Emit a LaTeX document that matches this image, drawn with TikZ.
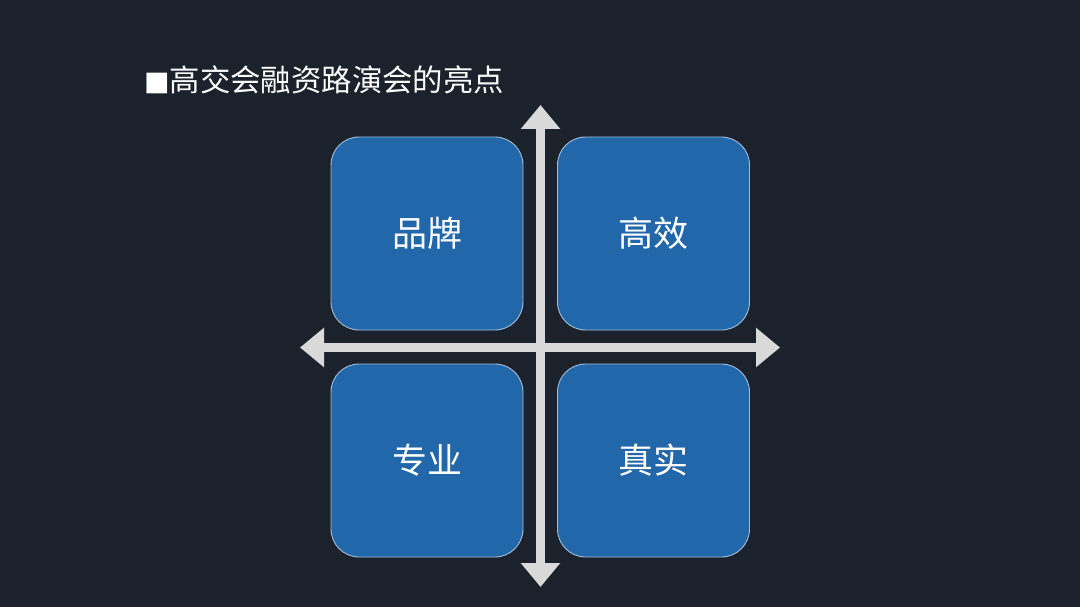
\documentclass[tikz,border=0pt]{standalone}
\usepackage{fontspec}
\setmainfont{Noto Sans CJK SC}
\newfontfamily\cjk{Noto Sans CJK SC}
\newfontfamily\symb{DejaVu Sans}
\usetikzlibrary{arrows.meta}
\definecolor{bgc}{HTML}{1B222C}
\definecolor{boxc}{HTML}{2167A9}
\definecolor{boxedge}{HTML}{A3BEDB}
\definecolor{axisc}{HTML}{D9D9D9}
\tikzset{
  quad/.style={draw=boxedge, line width=0.9pt, fill=boxc, rounded corners=28pt,
    minimum width=192pt, minimum height=193pt, inner sep=0pt,
    text=white, font=\cjk\fontsize{35}{40}\selectfont},
  axis/.style={draw=axisc, line width=9.5pt,
    {Triangle[width=38pt,length=24pt,fill=axisc]}-{Triangle[width=38pt,length=24pt,fill=axisc]}},
  title/.style={text=white, inner sep=0pt, anchor=west, font=\cjk\fontsize{30.4}{34}\selectfont}
}
\begin{document}
\begin{tikzpicture}[x=1pt,y=-1pt]
\fill[bgc] (0,0) rectangle (1080,607);
\useasboundingbox (0,0) rectangle (1080,607);
\node[title] (t) at (144,80) {{\symb\fontsize{27}{30}\selectfont\raisebox{1.5pt}{■}}高交会融资路演会的亮点};
\node[quad] (a) at (427,233.5) {\raisebox{-2pt}{品牌}};
\node[quad] (b) at (653.5,233.5) {\raisebox{-2pt}{高效}};
\node[quad] (c) at (427,460.5) {\raisebox{-2pt}{专业}};
\node[quad] (d) at (653.5,460.5) {\raisebox{-2pt}{真实}};
\coordinate (vt) at (540.5,105);
\coordinate (vb) at (540.5,587);
\coordinate (hl) at (300,347.5);
\coordinate (hr) at (780,347.5);
\draw[axis] (vt) -- (vb);
\draw[axis] (hl) -- (hr);
\end{tikzpicture}
\end{document}
